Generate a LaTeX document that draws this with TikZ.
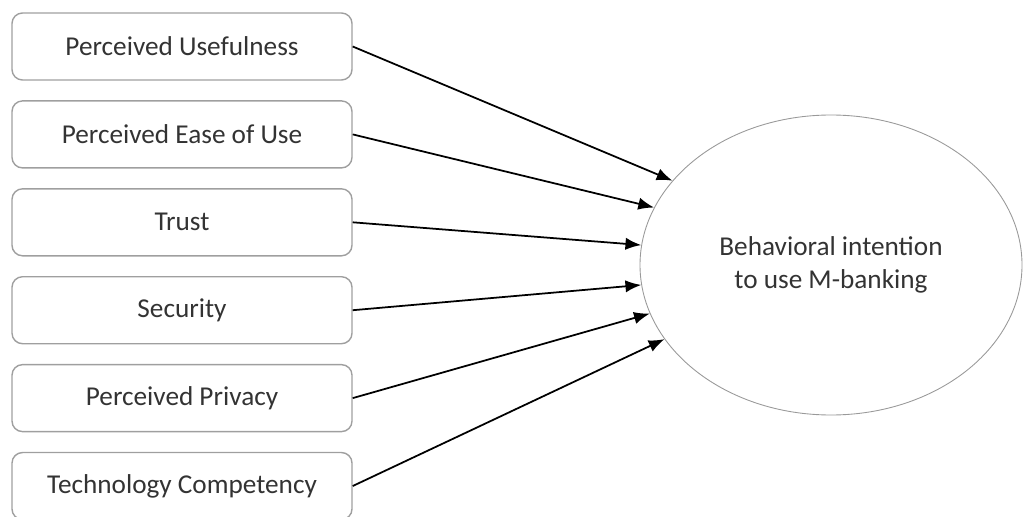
\documentclass[tikz,border=0pt]{standalone}
\usepackage{fontspec}
\setmainfont{Carlito}
\usetikzlibrary{positioning,shapes.geometric,arrows.meta}

\tikzset{
  factor/.style={draw=gray!75, line width=0.8pt, rounded corners=6pt,
    minimum width=6.8cm, minimum height=1.34cm, text=black!80,
    font=\fontsize{15.5}{18}\selectfont},
  intention/.style={ellipse, draw=gray!80, line width=0.5pt,
    minimum width=7.64cm, minimum height=6cm, align=center, text=black!80,
    font=\fontsize{15.5}{19}\selectfont},
  link/.style={-{Latex[length=9pt,width=7pt]}, line width=1pt}
}

\begin{document}
\begin{tikzpicture}

    \useasboundingbox (0,0) rectangle (20.5,-10.34);

    \node[factor] (pu) at (3.64,-0.93) {Perceived Usefulness};
    \node[factor, below=0.39cm of pu] (peou) {Perceived Ease of Use};
    \node[factor, below=0.39cm of peou] (trust) {Trust};
    \node[factor, below=0.39cm of trust] (sec) {Security};
    \node[factor, below=0.39cm of sec] (pp) {Perceived Privacy};
    \node[factor, below=0.39cm of pp] (tc) {Technology Competency};

    \node[intention] (bi) at (16.62,-5.30) {Behavioral intention\\to use M-banking};

    \draw[link] (pu.east) -- (bi.152.7);
    \draw[link] (peou.east) -- (bi.162.6);
    \draw[link] (trust.east) -- (bi.174);
    \draw[link] (sec.east) -- (bi.186);
    \draw[link] (pp.east) -- (bi.195.9);
    \draw[link] (tc.east) -- (bi.204.8);

\end{tikzpicture}
\end{document}
